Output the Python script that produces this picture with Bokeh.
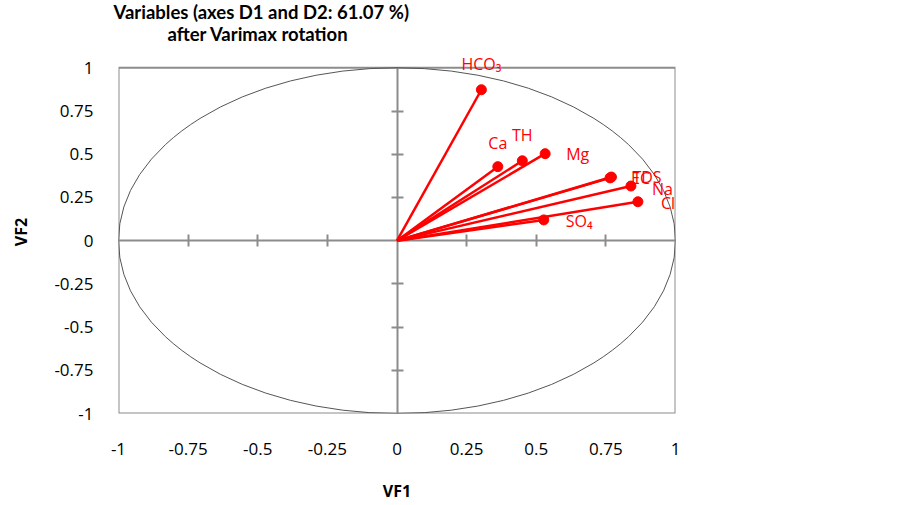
from bokeh.plotting import figure
from bokeh.models import LabelSet, LinearAxis, FixedTicker, Range1d, ColumnDataSource, Title
from bokeh.embed import file_html
from bokeh.resources import INLINE
from bokeh.core.properties import value

# ---- data ----
variables = ["HCO₃", "Ca", "TH", "Mg", "EC", "TDS", "Na", "Cl", "SO₄"]
vf1 = [0.303, 0.362, 0.450, 0.532, 0.765, 0.770, 0.840, 0.865, 0.527]
vf2 = [0.873, 0.428, 0.462, 0.503, 0.363, 0.368, 0.316, 0.225, 0.120]
tick_values = [-1, -0.75, -0.5, -0.25, 0, 0.25, 0.5, 0.75, 1]
tick_labels = ["-1", "-0.75", "-0.5", "-0.25", "0", "0.25", "0.5", "0.75", "1"]
title_lines = ["Variables (axes D1 and D2: 61.07 %)", "after Varimax rotation"]
x_title = "VF1"
y_title = "VF2"

# ---- label placement (styling only, screen pixels, +dy = up) ----
label_dx = [0, 0, 0, 21, 21, 21, 21, 23, 22]
label_dy = [26, 24, 26, 0, 0, 0, -3, -1, -1]
label_align = ["center", "center", "center", "left", "left", "left", "left", "left", "left"]

RED = "#ff0000"
GRAY = "#8c8c8c"
FONT = "Open Sans"
HEADROOM = 0.1   # extra room above the box so the top label is not clipped

lo, hi = tick_values[0], tick_values[-1]

src = ColumnDataSource(dict(
    x=vf1, y=vf2, name=variables, dx=label_dx, dy=label_dy, align=label_align,
    x0=[0] * len(vf1), y0=[0] * len(vf1),
))

p = figure(width=900, height=505,
           x_range=Range1d(lo, hi),
           y_range=Range1d(lo, hi + HEADROOM),
           output_backend="svg", toolbar_location=None,
           min_border_left=118, min_border_right=225,
           min_border_top=50, min_border_bottom=92)
p.title.text = ""
p.grid.visible = False
p.outline_line_color = None
p.background_fill_color = "white"
p.border_fill_color = "white"

overrides = {v: l for v, l in zip(tick_values, tick_labels)}

xa = p.below[0]
ya = p.left[0]
for ax in (xa, ya):
    ax.ticker = FixedTicker(ticks=tick_values)
    ax.major_label_overrides = overrides
    ax.axis_line_color = None
    ax.major_tick_line_color = None
    ax.minor_tick_line_color = None
    ax.major_tick_in = 0
    ax.major_tick_out = 0
    ax.major_label_text_font = FONT
    ax.major_label_text_font_size = "17px"
    ax.major_label_text_color = "black"
    ax.axis_label_text_font = FONT
    ax.axis_label_text_font_style = "bold"
    ax.axis_label_text_font_size = "16px"
    ax.axis_label_text_color = "black"
xa.axis_label = x_title
ya.axis_label = y_title
xa.major_label_standoff = 29
xa.axis_label_standoff = 22
ya.major_label_standoff = 25
ya.axis_label_standoff = 19

# plot box (-1..1 square in data space)
p.rect(x=[0], y=[0], width=[hi - lo], height=[hi - lo],
       fill_color=None, line_color=GRAY, line_width=2)

# zero axes through the origin with crossing ticks
inner_ticks = [t for t in tick_values if 0 < abs(t) < 1]
for loc in ("above", "right"):
    za = LinearAxis(fixed_location=0, ticker=FixedTicker(ticks=inner_ticks),
                    bounds=(lo, hi),
                    major_label_text_color=None, major_label_text_font_size="1px",
                    major_tick_in=6, major_tick_out=6,
                    axis_line_color=GRAY, axis_line_width=2,
                    major_tick_line_color=GRAY, major_tick_line_width=2,
                    minor_tick_line_color=None, major_label_standoff=0,
                    level="underlay")
    p.add_layout(za, loc)

# correlation circle
p.ellipse(x=[0], y=[0], width=[hi - lo], height=[hi - lo],
          fill_color=None, line_color="#555555", line_width=1)

p.segment(x0="x0", y0="y0", x1="x", y1="y", source=src, line_color=RED, line_width=2.5)
p.scatter(x="x", y="y", source=src, size=10, fill_color=RED, line_color=RED)

labels = LabelSet(x="x", y="y", text="name", source=src, x_offset="dx", y_offset="dy",
                  text_align="align", text_baseline="middle", text_color=RED,
                  text_font=value(FONT), text_font_size="16px", level="overlay")
p.add_layout(labels)

# two-line title (second line added first: it sits nearest the frame)
t2 = Title(text=title_lines[1], align="left", offset=49, standoff=12,
           text_font="Lato", text_font_style="bold", text_font_size="18.5px",
           text_color="black")
t1 = Title(text=title_lines[0], align="left", offset=-5, standoff=-16,
           text_font="Lato", text_font_style="bold", text_font_size="18.5px",
           text_color="black")
p.add_layout(t2, "above")
p.add_layout(t1, "above")

open("out.html", "w").write(file_html(p, INLINE))
